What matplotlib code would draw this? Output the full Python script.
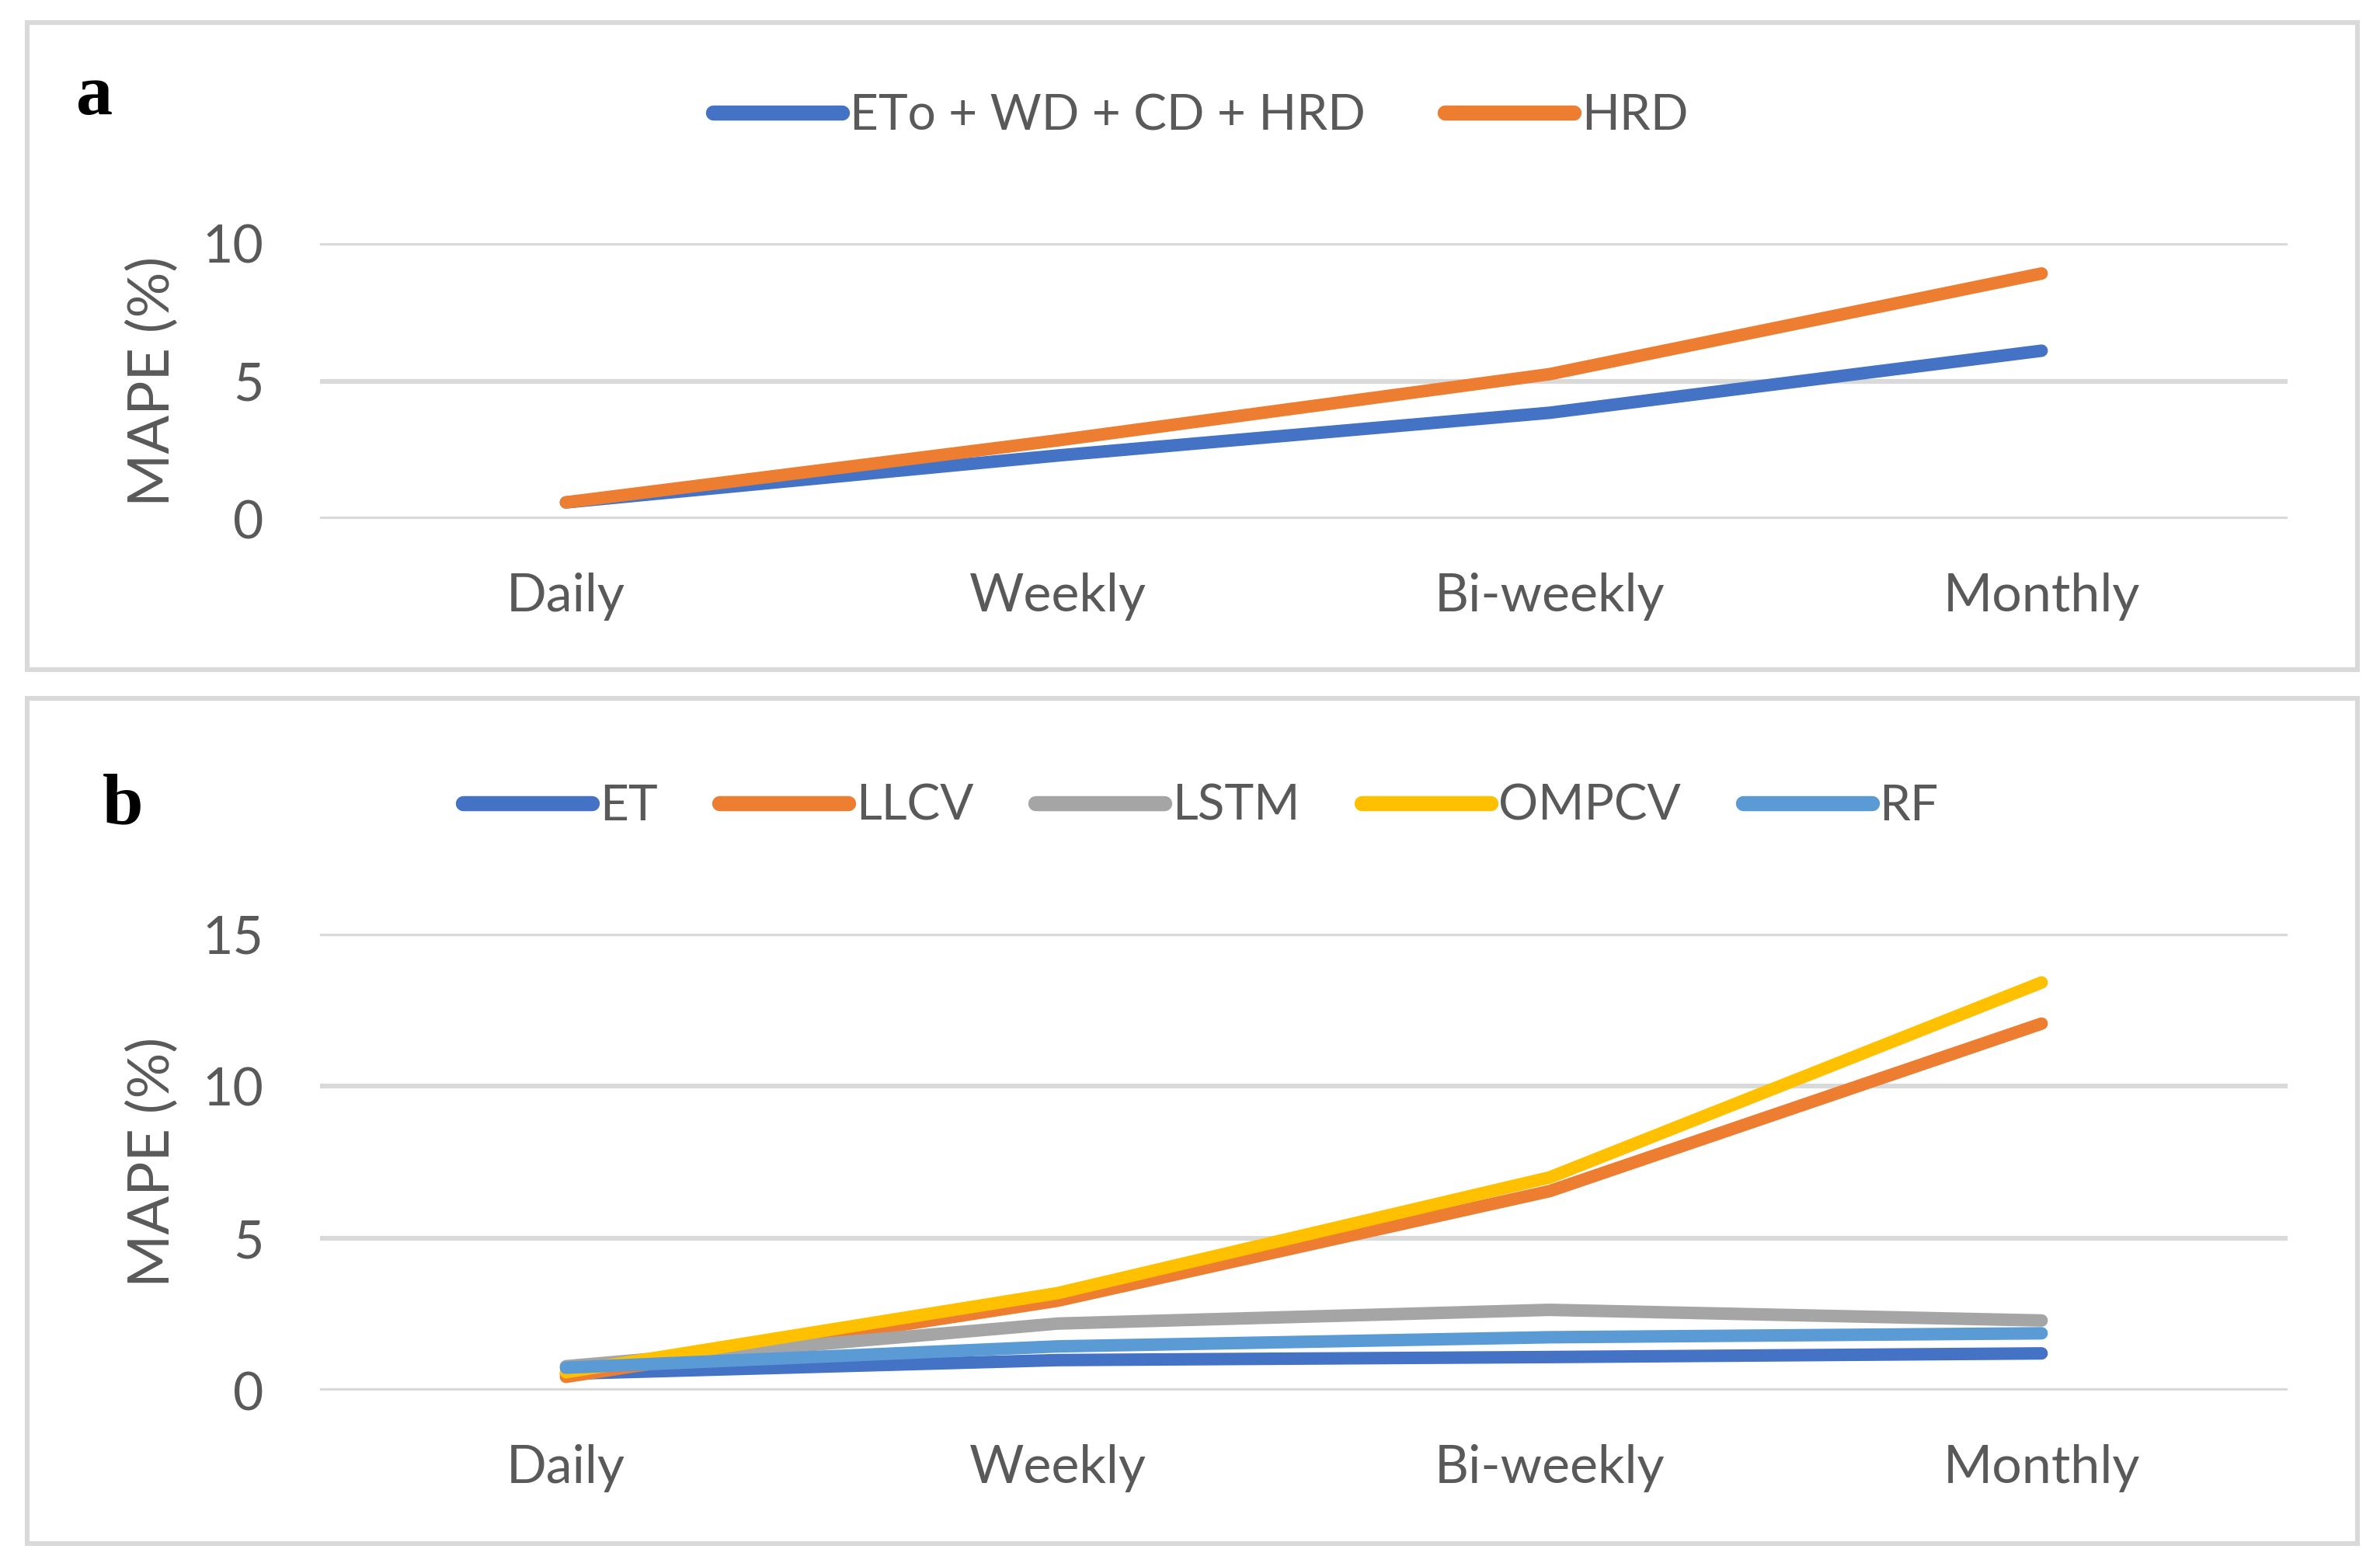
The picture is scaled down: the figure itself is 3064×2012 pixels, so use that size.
import matplotlib.pyplot as plt
from matplotlib.patches import Rectangle

# data
periods = ["Daily", "Weekly", "Bi-weekly", "Monthly"]

a_labels = ["ETo + WD + CD + HRD", "HRD"]
a_all = [0.6, 2.3, 3.85, 6.1]
a_hrd = [0.6, 2.85, 5.25, 8.9]

b_labels = ["ET", "LLCV", "LSTM", "OMPCV", "RF"]
b_et = [0.55, 1.0, 1.1, 1.22]
b_llcv = [0.45, 2.95, 6.55, 12.05]
b_lstm = [0.8, 2.2, 2.65, 2.3]
b_ompcv = [0.6, 3.2, 7.0, 13.4]
b_rf = [0.75, 1.45, 1.75, 1.88]

colors_a = ['#4472C4', '#ED7D31']
colors_b = ['#4472C4', '#ED7D31', '#A5A5A5', '#FFC000', '#5B9BD5']

txt = '#595959'
grid = '#D9D9D9'
plt.rcParams['font.family'] = ['Lato', 'DejaVu Sans']

W, H = 3064, 2012
fig = plt.figure(figsize=(W / 200, H / 200), dpi=200)

# panel frames
for y0, y1 in [(29, 862), (899, 1987)]:
    fig.patches.append(Rectangle((35 / W, 1 - y1 / H), 3000 / W, (y1 - y0) / H,
                                 transform=fig.transFigure, fill=False,
                                 edgecolor=grid, linewidth=2.2))


def style(ax, ymax, step):
    ax.set_xlim(-0.5, 3.5)
    ax.set_ylim(0, ymax)
    ax.set_yticks(range(0, ymax + 1, step))
    ax.set_xticks(range(len(periods)))
    ax.set_xticklabels(periods)
    for s in ax.spines.values():
        s.set_visible(False)
    ax.grid(axis='y', color=grid, linewidth=2.2)
    ax.set_axisbelow(True)
    ax.tick_params(length=0, labelsize=24.5, labelcolor=txt)
    ax.tick_params(axis='x', pad=25)
    ax.tick_params(axis='y', pad=26)
    ax.set_ylabel("MAPE (%)", fontsize=26.5, color=txt)
    ax.yaxis.set_label_coords(-0.0715, 0.5)


lw = 5.8

ax1 = fig.add_axes([412 / W, 1 - 668 / H, 2533 / W, 355 / H])
for vals, c, lab in zip([a_all, a_hrd], colors_a, a_labels):
    ax1.plot(range(len(periods)), vals, color=c, lw=lw, label=lab,
             solid_capstyle='round', solid_joinstyle='round', clip_on=False)
style(ax1, 10, 5)
leg = ax1.legend(loc='center', bbox_to_anchor=(0.5045, 1 - 149 / H),
                 bbox_transform=fig.transFigure, ncol=2, frameon=False,
                 fontsize=23, labelcolor=txt, handlelength=2.6, handletextpad=0.15,
                 columnspacing=1.6)
for h in leg.get_lines():
    h.set_linewidth(7)
    h.set_solid_capstyle('round')
fig.text(98 / W, 1 - 147 / H, "a", family='Liberation Serif', weight='bold',
         fontsize=34, va='baseline')

ax2 = fig.add_axes([412 / W, 1 - 1790 / H, 2533 / W, 588 / H])
for vals, c, lab in zip([b_et, b_llcv, b_lstm, b_ompcv, b_rf], colors_b, b_labels):
    ax2.plot(range(len(periods)), vals, color=c, lw=lw, label=lab,
             solid_capstyle='round', solid_joinstyle='round', clip_on=False)
style(ax2, 15, 5)
leg = ax2.legend(loc='center', bbox_to_anchor=(0.5045, 1 - 1038 / H),
                 bbox_transform=fig.transFigure, ncol=5, frameon=False,
                 fontsize=23, labelcolor=txt, handlelength=2.6, handletextpad=0.15,
                 columnspacing=1.25)
for h in leg.get_lines():
    h.set_linewidth(7)
    h.set_solid_capstyle('round')
fig.text(132 / W, 1 - 1060 / H, "b", family='Liberation Serif', weight='bold',
         fontsize=34, va='baseline')

fig.savefig("out.png", dpi=200)
